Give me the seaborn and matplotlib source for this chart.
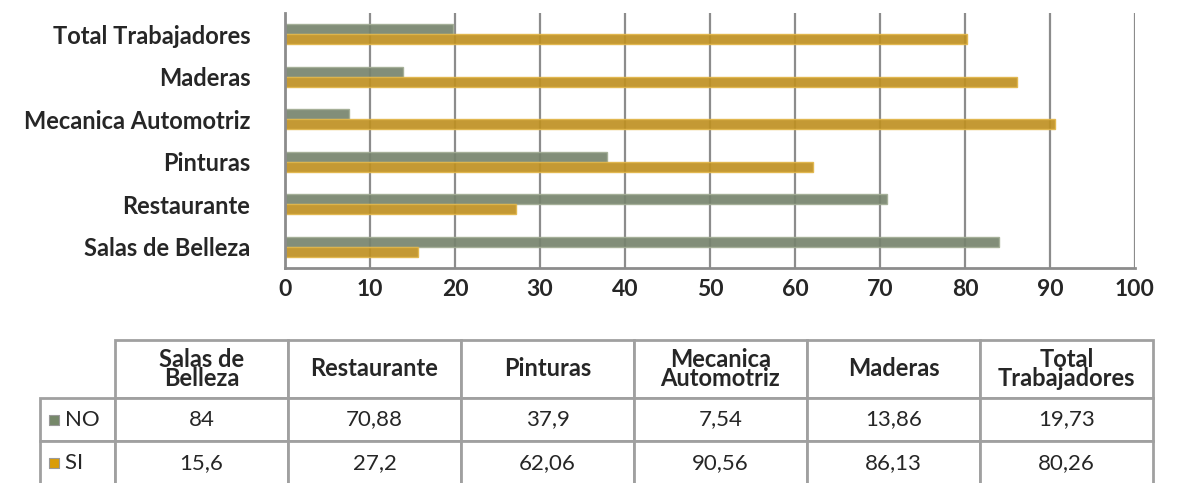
import pandas as pd
import matplotlib.pyplot as plt
import seaborn as sns

categorias = ["Salas de Belleza", "Restaurante", "Pinturas",
              "Mecanica Automotriz", "Maderas", "Total Trabajadores"]
encabezados = ["Salas de\nBelleza", "Restaurante", "Pinturas",
               "Mecanica\nAutomotriz", "Maderas", "Total\nTrabajadores"]
no_vals = [84, 70.88, 37.9, 7.54, 13.86, 19.73]
si_vals = [15.6, 27.2, 62.06, 90.56, 86.13, 80.26]
series = ["NO", "SI"]
colores = {"NO": "#76886a", "SI": "#d99c08"}
bordes = {"NO": "#a3ae95", "SI": "#e2b64a"}

sns.set_style("white")
plt.rcParams["font.family"] = ["Lato", "DejaVu Sans"]

df = pd.DataFrame({
    "categoria": categorias * 2,
    "serie": ["NO"] * len(categorias) + ["SI"] * len(categorias),
    "valor": no_vals + si_vals,
})
orden = categorias[::-1]

fig = plt.figure(figsize=(11.8, 4.83), dpi=100)
ax = fig.add_axes([285 / 1180, 1 - 268 / 483, 850 / 1180, 255 / 483])
sns.barplot(data=df, y="categoria", x="valor", hue="serie", order=orden,
            hue_order=series, palette=colores, orient="h", width=0.48,
            gap=0, ax=ax, legend=False, alpha=0.92)
for cont, s in zip(ax.containers, series):
    for bar in cont:
        bar.set_edgecolor(bordes[s])
        bar.set_linewidth(1.0)

ax.set_xlim(0, 100)
ax.set_xticks(range(0, 101, 10))
ax.xaxis.grid(True, color="#8c8c8c", linewidth=1.6)
ax.set_axisbelow(True)
ax.set_xlabel("")
ax.set_ylabel("")
for sp in ["top", "right"]:
    ax.spines[sp].set_visible(False)
for sp in ["left", "bottom"]:
    ax.spines[sp].set_color("#8c8c8c")
    ax.spines[sp].set_linewidth(2)
ax.tick_params(axis="y", length=0, pad=25, labelsize=17)
ax.tick_params(axis="x", length=0, pad=8, labelsize=16.5)
for lab in ax.get_yticklabels() + ax.get_xticklabels():
    lab.set_fontweight("bold")

# tabla de datos
tax = fig.add_axes([40 / 1180, -0.004, 1113 / 1180, 1 - 340 / 483 + 0.004])
tax.axis("off")
filas = [[""] + encabezados]
for s, vals in zip(series, [no_vals, si_vals]):
    filas.append(["    " + s] + [f"{v:g}".replace(".", ",") for v in vals])
anchos = [75] + [173] * 6
tabla = tax.table(cellText=filas, colWidths=anchos, cellLoc="center",
                  bbox=[0, 0, 1, 1])
tabla.auto_set_font_size(False)
alturas = [57, 43, 43]
for (r, c), cell in tabla.get_celld().items():
    cell.set_height(alturas[r])
    cell.set_edgecolor("#a0a0a0")
    cell.set_linewidth(2)
    txt = cell.get_text()
    txt.set_fontsize(16)
    if r == 0:
        txt.set_fontsize(17)
        txt.set_fontweight("bold")
        txt.set_linespacing(0.8)
        if c == 0:
            cell.visible_edges = ""
    if c == 0 and r > 0:
        txt.set_ha("left")
        txt.set_fontsize(16)
        cell.PAD = 0.02

# cuadros de color junto a NO y SI
y_no = 1 - (57 + 21.5) / 143
y_si = 1 - (57 + 43 + 21.5) / 143
for s, yy in zip(series, [y_no, y_si]):
    tax.scatter([14 / 1113], [yy], marker="s", s=55, color=colores[s],
                edgecolor="#9a9a9a", linewidth=0.8, transform=tax.transAxes,
                zorder=5, clip_on=False)

fig.savefig("out.png", dpi=100)
